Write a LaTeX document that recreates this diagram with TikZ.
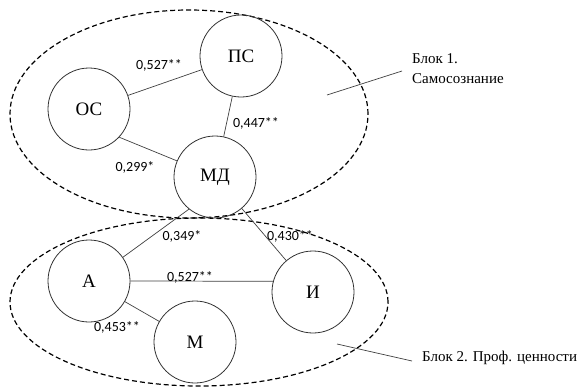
\documentclass[tikz,border=0pt]{standalone}
\usepackage{fontspec}
\setmainfont{Liberation Serif}
\newfontfamily\coeffont{Carlito}
\usepackage{tikz}
\newcommand{\drawdashed}{\draw[line width=1.2pt, dash pattern=on 5pt off 3pt]}
\newcommand{\drawthin}{\draw[line width=0.7pt, black!75]}
\newcommand{\coef}[3]{\node[coef] (#1) at (#2) {#3};}
\tikzset{
  factor/.style={draw, circle, line width=0.8pt, black!80, text=black,
    minimum size=82pt, inner sep=0pt, font=\fontsize{19}{21}\selectfont},
  coef/.style={inner sep=0pt, font=\coeffont\fontsize{14}{16}\selectfont},
  blocktext/.style={inner sep=0pt, align=left, font=\fontsize{15}{20}\selectfont}
}
\begin{document}
\begin{tikzpicture}[x=1pt,y=-1pt]
\useasboundingbox (0,0) rectangle (578,391);
% blocks
\drawdashed (189,114) ellipse [x radius=179pt, y radius=104pt];
\drawdashed (199,302) ellipse [x radius=189pt, y radius=84pt];
% factors
\node[factor] (ps) at (241,56) {ПС};
\node[factor] (os) at (89,109) {ОС};
\node[factor] (md) at (215,177) {МД};
\node[factor] (a) at (89,281) {А};
\node[factor] (m) at (195,342) {М};
\node[factor] (i) at (313,292) {И};
% links
\drawthin (os) -- (ps);
\drawthin (ps) -- (md);
\drawthin (os.-43) -- (md.157);
\drawthin (a.35) -- (md.-129);
\drawthin (md) -- (i);
\drawthin (a.east) -- (i.165);
\drawthin (a) -- (m);
\coef{r-os-ps}{159,65}{0,527**}\coef{r-ps-md}{256,123}{0,447**}\coef{r-os-md}{135,167}{0,299*}
\coef{r-a-md}{182,236}{0,349*}\coef{r-md-i}{290,236}{0,430**}\coef{r-a-i}{190,277}{0,527**}
\coef{r-a-m}{117,327}{0,453**}
% captions
\node[blocktext, anchor=west] (block1) at (412,69) {Блок 1.\\Самосознание};
\node[blocktext, anchor=west] (block2) at (422,358) {Блок 2. Проф. ценности};
\coordinate (b1in) at (327,95);
\coordinate (b1out) at (402,71);
\coordinate (b2in) at (337,344);
\coordinate (b2out) at (412,361);
\drawthin (b1in) -- (b1out);
\drawthin (b2in) -- (b2out);
\end{tikzpicture}
\end{document}
